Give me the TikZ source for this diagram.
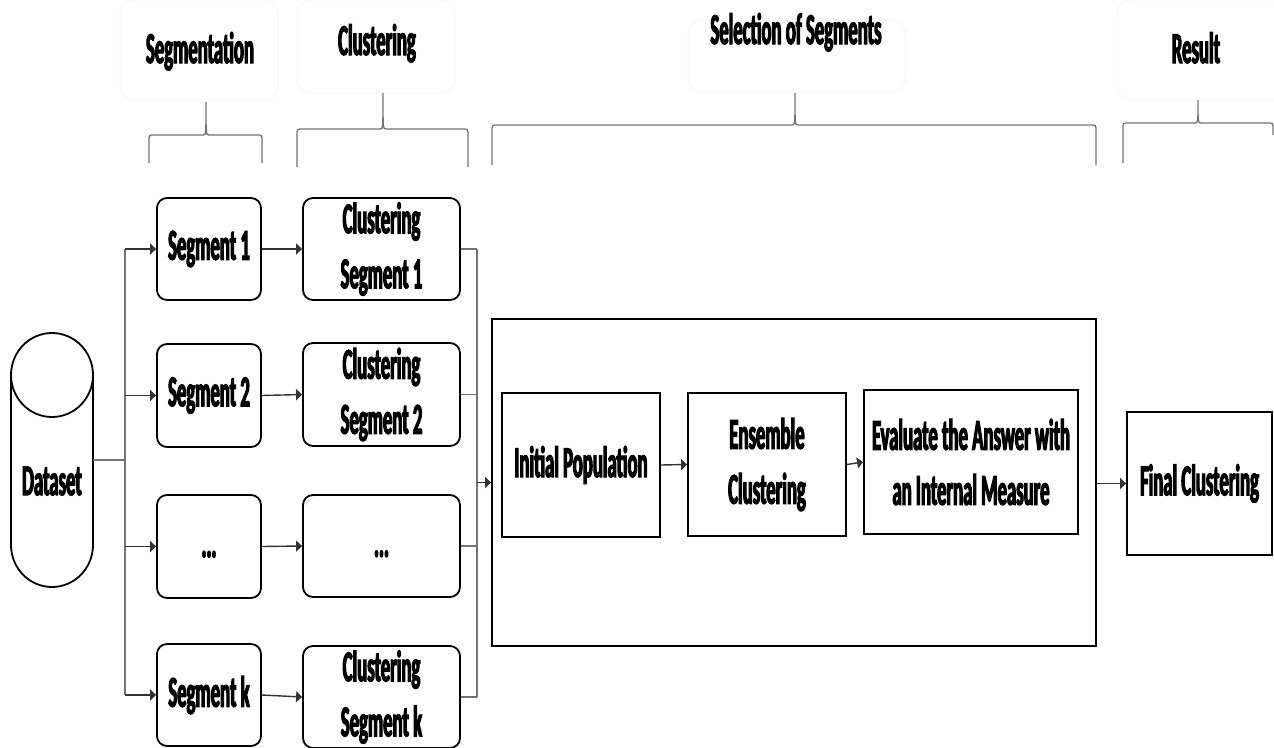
\documentclass[tikz,border=0pt]{standalone}
\usepackage{fontspec}
\setmainfont{Carlito}[FakeStretch=0.425, BoldFeatures={FakeBold=2.5}]
\usetikzlibrary{arrows.meta,calc}
\begin{document}
\begin{tikzpicture}[x=1pt,y=-1pt,font=\bfseries\fontsize{44}{55}\selectfont,
  box/.style={draw=black, line width=1.8pt, align=center, inner sep=2pt},
  rbox/.style={box, rounded corners=10pt},
  hbox/.style={draw=black!3, line width=1pt, rounded corners=14pt, inner sep=0pt},
  lbl/.style={inner sep=0pt, anchor=base},
  link/.style={draw=black!55, line width=1.3pt},
  arr/.style={draw=black!80, line width=1.4pt, -{Triangle[length=6pt,width=11pt]}},
  brc/.style={draw=black!55, line width=1.3pt}]
\useasboundingbox (0,0) rectangle (1274,747);

% faint header boxes
\node[hbox, minimum width=158pt, minimum height=100pt] (hb1) at (199,50) {};
\node[hbox, minimum width=158pt, minimum height=93pt] (hb2) at (376,46.5) {};
\node[hbox, minimum width=217pt, minimum height=72pt] (hb3) at (796.5,56) {};
\node[hbox, minimum width=170pt, minimum height=100pt] (hb4) at (1202,50) {};

% header labels
\node[lbl] (hSeg) at (200,63) {Segmentation};
\node[lbl] (hClu) at (377,55) {Clustering};
\node[lbl] (hSel) at (796,44) {Selection of Segments};
\node[lbl] (hRes) at (1196,63) {Result};

% braces
\foreach \xa/\xb/\yh/\xt/\yt/\yb/\yc in {149/262/135/206/102/163/163, 297/468/129/383/93/167/167, 492/1096/125/795/93/165/165, 1123/1273/123/1198/100/163/135}
  \draw[brc] (\xa,\yb) -- (\xa,\yh+6) .. controls (\xa,\yh) .. (\xa+6,\yh) -- (\xt-3,\yh) .. controls (\xt,\yh) .. (\xt,\yt) .. controls (\xt,\yh) .. (\xt+3,\yh) -- (\xb-6,\yh) .. controls (\xb,\yh) .. (\xb,\yh+6) -- (\xb,\yc);

% dataset cylinder
\draw[line width=1.8pt] (52,375) ellipse [x radius=41pt, y radius=42pt];
\draw[line width=1.8pt] (11,375) -- (11,545) arc[start angle=180, end angle=360, x radius=41pt, y radius=42pt] -- (93,375);
\node (ds) at (52,481) {Dataset};
\coordinate (dsR) at (93,460);
\coordinate (tr) at (125,0);
\coordinate (co) at (477,0);

% segments
\node[rbox, minimum width=104pt, minimum height=102pt] (seg1) at (209,249) {Segment 1};
\node[rbox, minimum width=104pt, minimum height=103pt] (seg2) at (209,395.5) {Segment 2};
\node[rbox, minimum width=104pt, minimum height=103pt] (seg3) at (209,546.5) {\vphantom{Sg}...};
\node[rbox, minimum width=104pt, minimum height=102pt] (segk) at (209,695) {Segment k};

% clustering
\node[rbox, minimum width=157pt, minimum height=102pt] (cl1) at (381.5,249) {Clustering\\Segment 1};
\node[rbox, minimum width=157pt, minimum height=103pt] (cl2) at (381.5,394.5) {Clustering\\Segment 2};
\node[rbox, minimum width=157pt, minimum height=102pt] (cl3) at (381.5,546) {\vphantom{Sg}...};
\node[rbox, minimum width=157pt, minimum height=102pt] (clk) at (381.5,697) {Clustering\\Segment k};

% selection box
\node[box, minimum width=604pt, minimum height=327pt] (big) at (794,482.5) {};
\node[box, minimum width=158pt, minimum height=144pt] (ip) at (581,465) {Initial Population};
\node[box, minimum width=158pt, minimum height=143pt] (ens) at (767,464.5) {Ensemble\\Clustering};
\node[box, minimum width=214pt, minimum height=144pt] (eva) at (971,462) {Evaluate the Answer with\\an Internal Measure};

% result
\node[box, minimum width=145pt, minimum height=143pt] (fin) at (1199.5,483.5) {Final Clustering};

% connectors
\draw[link] (dsR) -- (tr |- dsR);
\draw[link] (tr |- seg1.west) -- (tr |- segk.west);
\foreach \n in {seg1,seg2,seg3,segk}
  \draw[arr] (tr |- \n.west) -- (\n.west);
\draw[arr] (seg1.east) -- (cl1.west);
\draw[arr] (seg2.east) -- (cl2.west);
\draw[arr] (seg3.east) -- (cl3.west);
\draw[arr] (segk.east) -- (clk.west);
\foreach \n in {cl1,cl2,cl3,clk}
  \draw[link] (\n.east) -- (co |- \n.east);
\draw[link] (co |- cl1.east) -- (co |- clk.east);
\draw[arr] (co |- big.west) -- (big.west);
\draw[arr] (ip.east) -- (ens.west);
\draw[arr] (ens.east) -- (eva.west);
\draw[arr] (big.east |- fin.west) -- (fin.west);
\end{tikzpicture}
\end{document}
